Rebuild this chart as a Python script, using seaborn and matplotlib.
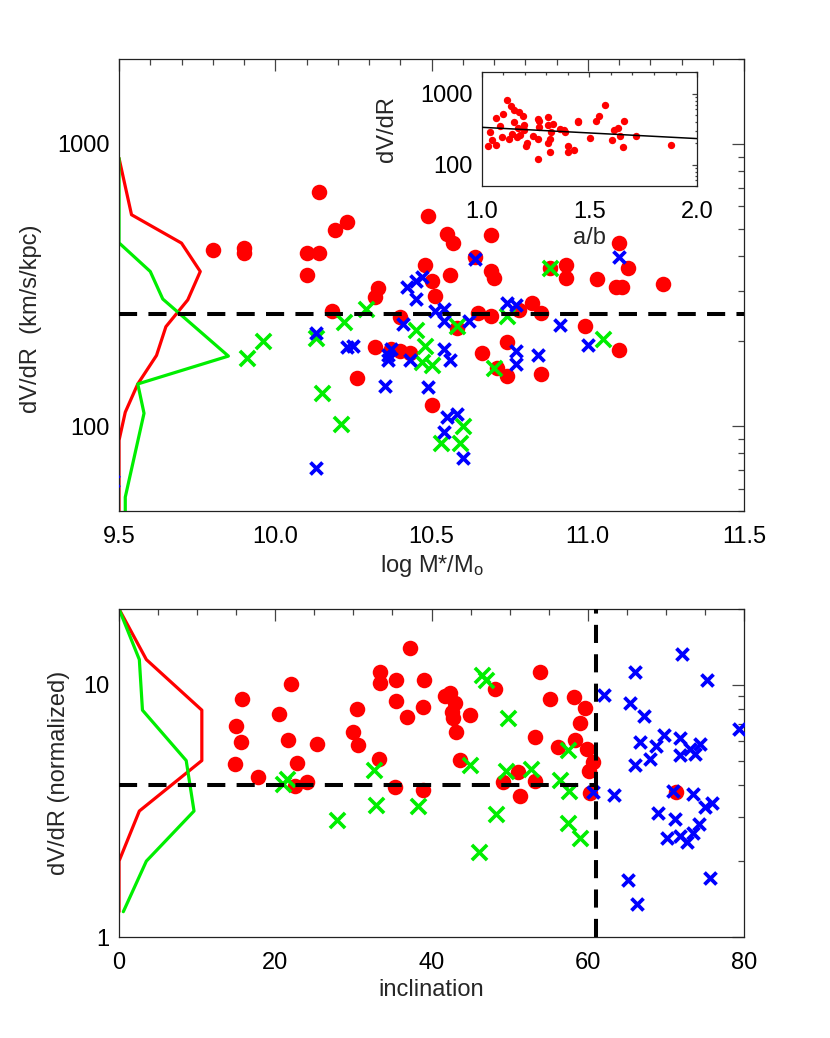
import numpy as np
import pandas as pd
import matplotlib
matplotlib.use('Agg')
import matplotlib.pyplot as plt
import seaborn as sns
from matplotlib.ticker import MultipleLocator, FixedLocator, FuncFormatter, NullFormatter, LogLocator

# ---------------- data: top panel (log M* vs dV/dR) ----------------
mass_red = [10.14, 10.19, 10.23, 9.80, 9.90, 9.90, 10.10, 10.14, 10.10, 10.33, 10.32, 10.18,
            10.49, 10.48, 10.26, 10.32, 10.40, 10.40, 10.43, 10.50, 10.37, 10.50, 10.51, 10.56,
            10.55, 10.57, 10.69, 10.69, 10.70, 10.65, 10.69, 10.66, 10.58, 10.74, 10.74, 10.71,
            10.64, 10.78, 10.82, 10.85, 10.85, 10.88, 10.93, 10.93, 11.03, 10.99, 11.10, 11.13,
            11.09, 11.11, 11.24, 11.10]
dvdr_red = [673, 495, 527, 422, 428, 412, 412, 412, 344, 308, 287, 255,
            556, 373, 148, 190, 244, 184, 182, 119, 187, 327, 290, 344,
            480, 446, 476, 355, 336, 252, 245, 181, 223, 198, 150, 161,
            396, 258, 274, 252, 153, 363, 373, 336, 332, 226, 444, 363,
            310, 311, 318, 186]

mass_green = [9.91, 9.96, 10.13, 10.15, 10.21, 10.22, 10.29, 10.45, 10.48, 10.47, 10.50, 10.58,
              10.70, 10.60, 10.53, 10.59, 10.74, 10.88, 11.05]
dvdr_green = [174, 201, 205, 131, 102, 233, 260, 219, 192, 168, 165, 226,
              161, 100, 87, 87, 245, 363, 204]

mass_blue = [9.48, 10.13, 10.13, 10.23, 10.25, 10.35, 10.36, 10.37, 10.36, 10.41, 10.43, 10.49,
             10.42, 10.45, 10.47, 10.45, 10.51, 10.54, 10.54, 10.62, 10.54, 10.56, 10.55, 10.58,
             10.54, 10.60, 10.64, 10.74, 10.77, 10.77, 10.77, 10.84, 10.91, 11.00, 11.10]
dvdr_blue = [64, 214, 71, 190, 192, 139, 179, 188, 172, 230, 171, 137,
             310, 327, 338, 282, 256, 259, 236, 236, 187, 172, 108, 110,
             95, 77, 391, 274, 269, 185, 166, 179, 229, 194, 396]

# histograms drawn along the left axis (x in mass units)
hist_top_red_x = [9.50, 9.54, 9.70, 9.76, 9.72, 9.65, 9.62, 9.56, 9.52, 9.50, 9.50]
hist_top_red_y = [890, 561, 445, 353, 280, 225, 178, 141, 112, 89, 50]
hist_top_green_x = [9.50, 9.50, 9.60, 9.64, 9.85, 9.56, 9.58, 9.52, 9.52]
hist_top_green_y = [890, 446, 353, 282, 177, 141, 111, 56, 50]
thresh_top = 250

# ---------------- inset (a/b vs dV/dR) ----------------
ab_inset = [1.118, 1.136, 1.149, 1.175, 1.190, 1.068, 1.099, 1.084, 1.039, 1.046, 1.031, 1.065,
            1.093, 1.125, 1.139, 1.152, 1.163, 1.178, 1.198, 1.195, 1.170, 1.212, 1.204, 1.237,
            1.260, 1.260, 1.268, 1.268, 1.260, 1.307, 1.310, 1.322, 1.333, 1.317, 1.310, 1.317,
            1.364, 1.384, 1.388, 1.402, 1.399, 1.430, 1.449, 1.446, 1.505, 1.531, 1.546, 1.573,
            1.604, 1.616, 1.632, 1.663, 1.642, 1.658, 1.717, 1.879]
dvdr_inset = [816, 673, 592, 561, 487, 448, 520, 347, 292, 223, 184, 188,
              248, 231, 271, 403, 248, 262, 362, 308, 325, 200, 186, 257,
              231, 438, 411, 336, 120, 472, 362, 292, 369, 231, 200, 150,
              318, 308, 292, 184, 149, 162, 411, 393, 240, 411, 487, 687,
              225, 308, 332, 411, 257, 177, 257, 190]
ab_fit = [1.0, 2.0]
dvdr_fit = [336, 233]

# ---------------- bottom panel (inclination vs normalized dV/dR) ----------------
inc_red = [15.8, 15.0, 15.6, 14.8, 17.8, 22.0, 20.5, 21.6, 22.8, 24.0, 22.5, 25.4, 30.4,
           29.9, 30.6, 33.3, 33.4, 33.4, 35.5, 35.5, 35.3, 37.2, 39.0, 36.9, 38.9, 41.7,
           42.4, 43.0, 42.6, 42.8, 44.9, 43.1, 43.6, 48.1, 53.2, 53.9, 55.2, 58.2, 59.6,
           59.0, 56.2, 58.4, 59.9, 60.7, 60.1, 60.3, 49.2, 51.1, 51.3, 53.2, 38.9, 71.3]
norm_red = [8.77, 6.87, 5.93, 4.86, 4.32, 10.1, 7.70, 6.03, 4.91, 4.11, 3.98, 5.84, 8.0,
            6.5, 5.79, 5.09, 11.3, 10.2, 10.5, 8.65, 3.92, 14.0, 10.5, 7.47, 8.14, 9.04,
            9.26, 8.45, 7.82, 7.36, 7.59, 6.51, 5.05, 9.61, 6.21, 11.3, 8.77, 8.93, 8.11,
            7.03, 5.67, 6.03, 5.58, 4.93, 4.57, 3.74, 4.11, 4.50, 3.63, 4.17, 3.83, 3.75]

inc_green = [21.0, 21.5, 27.9, 32.6, 32.9, 46.5, 47.0, 49.8, 44.9, 49.5, 52.7, 56.4, 57.5,
             57.6, 57.5, 59.0, 48.3, 46.1, 38.3]
norm_green = [4.04, 4.23, 2.90, 4.60, 3.33, 10.9, 10.5, 7.36, 4.79, 4.57, 4.64, 4.20, 5.50,
              3.78, 2.84, 2.46, 3.07, 2.17, 3.31]

inc_blue = [62.1, 60.7, 63.3, 66.0, 65.4, 67.2, 66.7, 66.0, 68.0, 68.7, 69.8, 71.8, 72.0,
            75.2, 79.4, 71.8, 73.1, 74.4, 73.7, 70.9, 73.5, 69.0, 71.2, 70.1, 71.8, 72.7,
            73.5, 74.3, 75.0, 75.9, 75.6, 65.2, 66.3]
norm_blue = [9.12, 3.76, 3.66, 11.3, 8.45, 7.52, 5.93, 4.79, 5.09, 5.70, 6.31, 6.18, 13.2,
             10.5, 6.71, 5.25, 5.58, 5.84, 5.30, 3.80, 3.69, 3.11, 2.93, 2.46, 2.51, 2.38,
             2.59, 2.81, 3.28, 3.41, 1.72, 1.69, 1.35]

hist_bot_y = [20, 12.6, 7.94, 5.01, 3.16, 2.0, 1.26]
hist_bot_red_x = [0, 3.5, 10.6, 10.6, 2.6, 0, 0]
hist_bot_green_x = [0, 2.6, 3.0, 8.6, 9.6, 3.5, 0.55]
thresh_norm = 4
inc_cut = 61

# ---------------- styling ----------------
sns.set_style('white')
plt.rcParams['font.family'] = ['Liberation Sans', 'DejaVu Sans']
plt.rcParams['mathtext.fontset'] = 'custom'
plt.rcParams['mathtext.rm'] = 'Liberation Sans'
plt.rcParams['mathtext.it'] = 'Liberation Sans:italic'

RED = '#ff0000'
GREEN = '#00ee00'
BLUE = '#0000ff'
FS = 17

fig = plt.figure(figsize=(8.3, 10.38), dpi=100)
ax1 = fig.add_axes([0.1434, 0.5077, 0.753, 0.4355])
ax2 = fig.add_axes([0.1434, 0.0973, 0.753, 0.316])
axi = fig.add_axes([0.5804, 0.8208, 0.2594, 0.1095])


def style(ax, major_len=8.5, minor_len=4.3, xpad=10.5, ypad=7):
    for s in ax.spines.values():
        s.set_visible(True)
        s.set_color('#222222')
        s.set_linewidth(0.9)
    ax.tick_params(which='both', direction='in', top=True, right=True,
                   color='#444444', labelsize=FS, width=0.9, labelcolor='black')
    ax.tick_params(which='major', length=major_len)
    ax.tick_params(which='minor', length=minor_len)
    ax.tick_params(axis='x', which='major', pad=xpad)
    ax.tick_params(axis='y', which='major', pad=ypad)


int_fmt = FuncFormatter(lambda v, p: '%d' % round(v))

# ---- top panel ----
sns.lineplot(x=hist_top_red_x, y=hist_top_red_y, sort=False, estimator=None,
             color=RED, lw=2.3, ax=ax1, zorder=2)
sns.lineplot(x=hist_top_green_x, y=hist_top_green_y, sort=False, estimator=None,
             color=GREEN, lw=2.3, ax=ax1, zorder=2)
sns.scatterplot(x=mass_red, y=dvdr_red, color=RED, s=125, linewidth=0, ax=ax1, zorder=3)
sns.scatterplot(x=mass_green, y=dvdr_green, color=GREEN, marker='x', s=120,
                linewidth=2.6, ax=ax1, zorder=4)
sns.scatterplot(x=mass_blue, y=dvdr_blue, color=BLUE, marker='x', s=75,
                linewidth=2.7, ax=ax1, zorder=5)
ax1.axhline(thresh_top, color='black', lw=2.9, dashes=(4.5, 2.8), zorder=6)
ax1.set_yscale('log')
ax1.set_xlim(9.5, 11.5)
ax1.set_ylim(50, 2000)
ax1.xaxis.set_major_locator(MultipleLocator(0.5))
ax1.xaxis.set_minor_locator(MultipleLocator(0.1))
ax1.xaxis.set_major_formatter(FuncFormatter(lambda v, p: '%.1f' % v))
ax1.yaxis.set_major_locator(FixedLocator([100, 1000]))
ax1.yaxis.set_minor_locator(LogLocator(base=10, subs=np.arange(2, 10)))
ax1.yaxis.set_major_formatter(int_fmt)
ax1.yaxis.set_minor_formatter(NullFormatter())
style(ax1)
ax1.set_xlabel(r'log M*/M$_{\rm o}$', fontsize=FS, labelpad=4)
ax1.set_ylabel('dV/dR  (km/s/kpc)', fontsize=FS)
ax1.yaxis.set_label_coords(-0.123, 0.425)

# ---- inset ----
sns.scatterplot(x=ab_inset, y=dvdr_inset, color=RED, s=28, linewidth=0, ax=axi, zorder=3)
sns.lineplot(x=ab_fit, y=dvdr_fit, color='black', lw=1.1, ax=axi, zorder=4)
axi.set_yscale('log')
axi.set_xlim(1.0, 2.0)
axi.set_ylim(50, 2000)
axi.xaxis.set_major_locator(MultipleLocator(0.5))
axi.xaxis.set_minor_locator(MultipleLocator(0.1))
axi.xaxis.set_major_formatter(FuncFormatter(lambda v, p: '%.1f' % v))
axi.yaxis.set_major_locator(FixedLocator([100, 1000]))
axi.yaxis.set_minor_locator(LogLocator(base=10, subs=np.arange(2, 10)))
axi.yaxis.set_major_formatter(int_fmt)
axi.yaxis.set_minor_formatter(NullFormatter())
style(axi, major_len=3.5, minor_len=1.8, xpad=11, ypad=6.5)
axi.set_xlabel('a/b', fontsize=FS, labelpad=3)
axi.set_ylabel('dV/dR', fontsize=FS)
axi.yaxis.set_label_coords(-0.389, 0.5)

# ---- bottom panel ----
sns.lineplot(x=hist_bot_red_x, y=hist_bot_y, sort=False, estimator=None,
             color=RED, lw=2.3, ax=ax2, zorder=2)
sns.lineplot(x=hist_bot_green_x, y=hist_bot_y, sort=False, estimator=None,
             color=GREEN, lw=2.3, ax=ax2, zorder=2)
sns.scatterplot(x=inc_red, y=norm_red, color=RED, s=125, linewidth=0, ax=ax2, zorder=3)
sns.scatterplot(x=inc_green, y=norm_green, color=GREEN, marker='x', s=120,
                linewidth=2.6, ax=ax2, zorder=4)
sns.scatterplot(x=inc_blue, y=norm_blue, color=BLUE, marker='x', s=75,
                linewidth=2.7, ax=ax2, zorder=5)
ax2.hlines(thresh_norm, 0, inc_cut, color='black', lw=2.9, linestyles=(0, (4.5, 2.8)), zorder=6)
ax2.axvline(inc_cut, color='black', lw=2.9, dashes=(4.5, 2.8), zorder=6)
ax2.set_yscale('log')
ax2.set_xlim(0, 80)
ax2.set_ylim(1, 20)
ax2.xaxis.set_major_locator(MultipleLocator(20))
ax2.xaxis.set_minor_locator(MultipleLocator(5))
ax2.yaxis.set_major_locator(FixedLocator([1, 10]))
ax2.yaxis.set_minor_locator(LogLocator(base=10, subs=np.arange(2, 10)))
ax2.yaxis.set_major_formatter(int_fmt)
ax2.yaxis.set_minor_formatter(NullFormatter())
style(ax2)
ax2.set_xlabel('inclination', fontsize=FS, labelpad=4)
ax2.set_ylabel('dV/dR (normalized)', fontsize=FS)
ax2.yaxis.set_label_coords(-0.078, 0.5)

fig.savefig('out.png', dpi=100)
